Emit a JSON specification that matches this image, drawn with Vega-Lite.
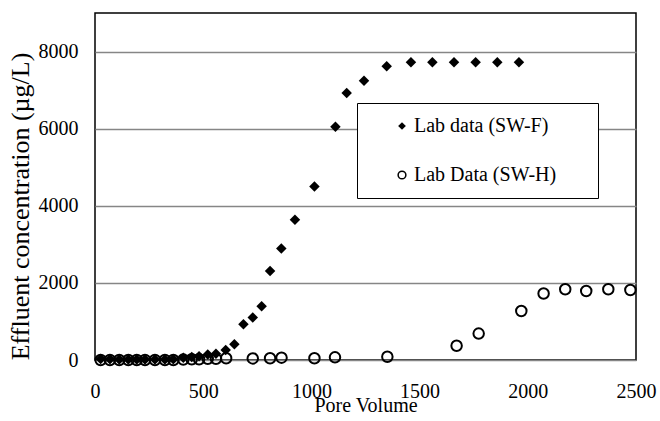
{
  "$schema": "https://vega.github.io/schema/vega-lite/v6.json",
  "width": 541,
  "height": 347,
  "autosize": {"type": "none"},
  "padding": {"left": 95, "top": 13, "right": 24, "bottom": 61},
  "background": "white",
  "config": {
    "font": "Times New Roman, Liberation Serif, serif",
    "text": {"font": "Times New Roman, Liberation Serif, serif"},
    "view": {"stroke": "black", "strokeWidth": 1.5},
    "axis": {"labelColor": "black", "titleColor": "black", "labelFontSize": 20, "titleFontSize": 20, "titleFontWeight": "normal", "ticks": false, "domain": false, "labelFont": "Times New Roman, Liberation Serif, serif", "titleFont": "Times New Roman, Liberation Serif, serif"},
    "legend": {"labelFont": "Times New Roman, Liberation Serif, serif", "titleFont": "Times New Roman, Liberation Serif, serif"}
  },
  "data": {
    "values": [
      {"series": "Lab data (SW-F)", "pv": 26, "conc": 25},
      {"series": "Lab data (SW-F)", "pv": 69, "conc": 20},
      {"series": "Lab data (SW-F)", "pv": 112, "conc": 10},
      {"series": "Lab data (SW-F)", "pv": 154, "conc": 10},
      {"series": "Lab data (SW-F)", "pv": 193, "conc": 10},
      {"series": "Lab data (SW-F)", "pv": 231, "conc": 10},
      {"series": "Lab data (SW-F)", "pv": 277, "conc": 10},
      {"series": "Lab data (SW-F)", "pv": 323, "conc": 10},
      {"series": "Lab data (SW-F)", "pv": 362, "conc": 20},
      {"series": "Lab data (SW-F)", "pv": 408, "conc": 60},
      {"series": "Lab data (SW-F)", "pv": 447, "conc": 80},
      {"series": "Lab data (SW-F)", "pv": 481, "conc": 100},
      {"series": "Lab data (SW-F)", "pv": 521, "conc": 140},
      {"series": "Lab data (SW-F)", "pv": 559, "conc": 165},
      {"series": "Lab data (SW-F)", "pv": 604, "conc": 260},
      {"series": "Lab data (SW-F)", "pv": 644, "conc": 410},
      {"series": "Lab data (SW-F)", "pv": 686, "conc": 930},
      {"series": "Lab data (SW-F)", "pv": 729, "conc": 1100},
      {"series": "Lab data (SW-F)", "pv": 770, "conc": 1395},
      {"series": "Lab data (SW-F)", "pv": 809, "conc": 2310},
      {"series": "Lab data (SW-F)", "pv": 861, "conc": 2890},
      {"series": "Lab data (SW-F)", "pv": 924, "conc": 3640},
      {"series": "Lab data (SW-F)", "pv": 1014, "conc": 4500},
      {"series": "Lab data (SW-F)", "pv": 1111, "conc": 6050},
      {"series": "Lab data (SW-F)", "pv": 1163, "conc": 6925},
      {"series": "Lab data (SW-F)", "pv": 1243, "conc": 7245},
      {"series": "Lab data (SW-F)", "pv": 1348, "conc": 7620},
      {"series": "Lab data (SW-F)", "pv": 1460, "conc": 7720},
      {"series": "Lab data (SW-F)", "pv": 1559, "conc": 7720},
      {"series": "Lab data (SW-F)", "pv": 1659, "conc": 7720},
      {"series": "Lab data (SW-F)", "pv": 1759, "conc": 7720},
      {"series": "Lab data (SW-F)", "pv": 1859, "conc": 7720},
      {"series": "Lab data (SW-F)", "pv": 1959, "conc": 7720},
      {"series": "Lab Data (SW-H)", "pv": 26, "conc": 0},
      {"series": "Lab Data (SW-H)", "pv": 69, "conc": 0},
      {"series": "Lab Data (SW-H)", "pv": 112, "conc": 0},
      {"series": "Lab Data (SW-H)", "pv": 154, "conc": 0},
      {"series": "Lab Data (SW-H)", "pv": 193, "conc": 0},
      {"series": "Lab Data (SW-H)", "pv": 231, "conc": 0},
      {"series": "Lab Data (SW-H)", "pv": 277, "conc": 0},
      {"series": "Lab Data (SW-H)", "pv": 323, "conc": 0},
      {"series": "Lab Data (SW-H)", "pv": 362, "conc": 0},
      {"series": "Lab Data (SW-H)", "pv": 408, "conc": 10},
      {"series": "Lab Data (SW-H)", "pv": 447, "conc": 20},
      {"series": "Lab Data (SW-H)", "pv": 481, "conc": 20},
      {"series": "Lab Data (SW-H)", "pv": 521, "conc": 30},
      {"series": "Lab Data (SW-H)", "pv": 559, "conc": 30},
      {"series": "Lab Data (SW-H)", "pv": 606, "conc": 45},
      {"series": "Lab Data (SW-H)", "pv": 729, "conc": 40},
      {"series": "Lab Data (SW-H)", "pv": 809, "conc": 45},
      {"series": "Lab Data (SW-H)", "pv": 862, "conc": 60},
      {"series": "Lab Data (SW-H)", "pv": 1014, "conc": 45},
      {"series": "Lab Data (SW-H)", "pv": 1109, "conc": 70},
      {"series": "Lab Data (SW-H)", "pv": 1351, "conc": 85},
      {"series": "Lab Data (SW-H)", "pv": 1671, "conc": 370},
      {"series": "Lab Data (SW-H)", "pv": 1773, "conc": 685},
      {"series": "Lab Data (SW-H)", "pv": 1970, "conc": 1270},
      {"series": "Lab Data (SW-H)", "pv": 2073, "conc": 1725},
      {"series": "Lab Data (SW-H)", "pv": 2173, "conc": 1835},
      {"series": "Lab Data (SW-H)", "pv": 2270, "conc": 1790},
      {"series": "Lab Data (SW-H)", "pv": 2372, "conc": 1835},
      {"series": "Lab Data (SW-H)", "pv": 2474, "conc": 1815}
    ]
  },
  "mark": {"type": "point", "filled": true, "size": 110, "strokeWidth": 2, "opacity": 1},
  "encoding": {
    "x": {
      "field": "pv", "type": "quantitative",
      "scale": {"domain": [0, 2500], "nice": false},
      "axis": {"title": "Pore Volume", "values": [0, 500, 1000, 1500, 2000, 2500], "format": "d", "grid": false, "labelPadding": 21, "labelFlush": false, "titleY": 51, "titleBaseline": "alphabetic"}
    },
    "y": {
      "field": "conc", "type": "quantitative",
      "scale": {"domain": [0, 9000], "nice": false},
      "axis": {"title": "Effluent concentration (µg/L)", "values": [0, 2000, 4000, 6000, 8000], "format": "d", "grid": true, "gridColor": "#868686", "gridWidth": 1.5, "labelPadding": 17, "titleX": -67, "titleY": 193, "titleAngle": -90, "titleBaseline": "alphabetic", "titleAlign": "center", "titleFontSize": 26}
    },
    "shape": {
      "field": "series", "type": "nominal",
      "scale": {"domain": ["Lab data (SW-F)", "Lab Data (SW-H)"], "range": ["diamond", "circle"]},
      "legend": {"orient": "none", "legendX": 262, "legendY": 90, "title": " ", "titleOrient": "right", "titlePadding": 29, "titleFontSize": 20, "padding": 13, "symbolOffset": 22, "strokeColor": "black", "fillColor": "white", "labelFontSize": 20, "labelColor": "black", "rowPadding": 29, "symbolSize": 60, "symbolStrokeWidth": 1.5, "labelOffset": 2}
    },
    "fill": {
      "field": "series", "type": "nominal",
      "scale": {"domain": ["Lab data (SW-F)", "Lab Data (SW-H)"], "range": ["black", "transparent"]},
      "legend": {"orient": "none", "legendX": 262, "legendY": 90, "title": " ", "titleOrient": "right", "titlePadding": 29, "titleFontSize": 20, "padding": 13, "symbolOffset": 22, "strokeColor": "black", "fillColor": "white", "labelFontSize": 20, "labelColor": "black", "rowPadding": 29, "symbolSize": 60, "symbolStrokeWidth": 1.5, "labelOffset": 2}
    },
    "stroke": {
      "field": "series", "type": "nominal",
      "scale": {"domain": ["Lab data (SW-F)", "Lab Data (SW-H)"], "range": ["transparent", "black"]},
      "legend": {"orient": "none", "legendX": 262, "legendY": 90, "title": " ", "titleOrient": "right", "titlePadding": 29, "titleFontSize": 20, "padding": 13, "symbolOffset": 22, "strokeColor": "black", "fillColor": "white", "labelFontSize": 20, "labelColor": "black", "rowPadding": 29, "symbolSize": 60, "symbolStrokeWidth": 1.5, "labelOffset": 2}
    }
  }
}
